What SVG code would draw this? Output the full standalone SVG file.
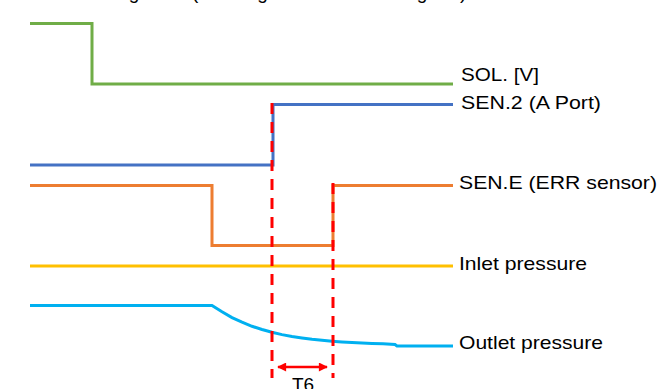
<svg xmlns="http://www.w3.org/2000/svg" width="669" height="389" viewBox="0 0 669 389">
<style>
  .sig { fill: none; stroke-width: 3; stroke-linejoin: miter; }
  .lbl { font-family: "Liberation Sans", Arial, sans-serif; font-size: 19px; fill: #000; }
  .mark { fill: none; stroke: #FF0000; stroke-width: 3; stroke-dasharray: 11 8; }
</style>
<defs>
  <marker id="ah" viewBox="0 0 10 10" refX="9" refY="5" markerWidth="10" markerHeight="9" markerUnits="userSpaceOnUse" orient="auto-start-reverse">
    <path d="M0,0 L10,5 L0,10 Z" fill="#FF0000"/>
  </marker>
</defs>
<rect width="669" height="389" fill="#fff"/>
<text class="lbl" x="83" y="-1" font-size="18">Timing chart (Working sensor status diagram)</text>

<g id="sol">
  <path class="sig" stroke="#70AD47" d="M30,23.5 H92 V84 H453"/>
  <text class="lbl" x="461" y="81" textLength="78" lengthAdjust="spacingAndGlyphs">SOL. [V]</text>
</g>
<g id="sen2">
  <path class="sig" stroke="#4472C4" d="M30,165 H273 V104.5 H453"/>
  <text class="lbl" x="461" y="109" textLength="140" lengthAdjust="spacingAndGlyphs">SEN.2 (A Port)</text>
</g>
<g id="sene">
  <path class="sig" stroke="#ED7D31" d="M30,185.5 H212 V245.5 H333 V185.5 H453"/>
  <text class="lbl" x="459" y="189" textLength="198" lengthAdjust="spacingAndGlyphs">SEN.E (ERR sensor)</text>
</g>
<g id="inlet">
  <path class="sig" stroke="#FFC000" d="M30,266 H453"/>
  <text class="lbl" x="459" y="270" textLength="128" lengthAdjust="spacingAndGlyphs">Inlet pressure</text>
</g>
<g id="outlet">
  <path class="sig" stroke="#00B0F0" stroke-linejoin="round" d="M30,305.5 H212 L222,311.8 L232,317.6 L242,322.2 L252,326.3 L262,329.5 L272,332.3 L282,334.6 L292,336.5 L302,338 L312,339.3 L322,340.3 L332,341.2 L342,341.9 L352,342.5 L362,343 L372,343.4 L383,343.8 L395,344.5 L397,346 H453"/>
  <text class="lbl" x="459" y="349" textLength="144" lengthAdjust="spacingAndGlyphs">Outlet pressure</text>
</g>

<g id="connectors">
  <path class="mark" d="M272,103 V378"/>
  <path class="mark" d="M333,183 V378"/>
  <path d="M278,367 H327" stroke="#FF0000" stroke-width="2.5" fill="none" marker-start="url(#ah)" marker-end="url(#ah)"/>
  <text class="lbl" x="303" y="391" text-anchor="middle">T6</text>
</g>
</svg>
